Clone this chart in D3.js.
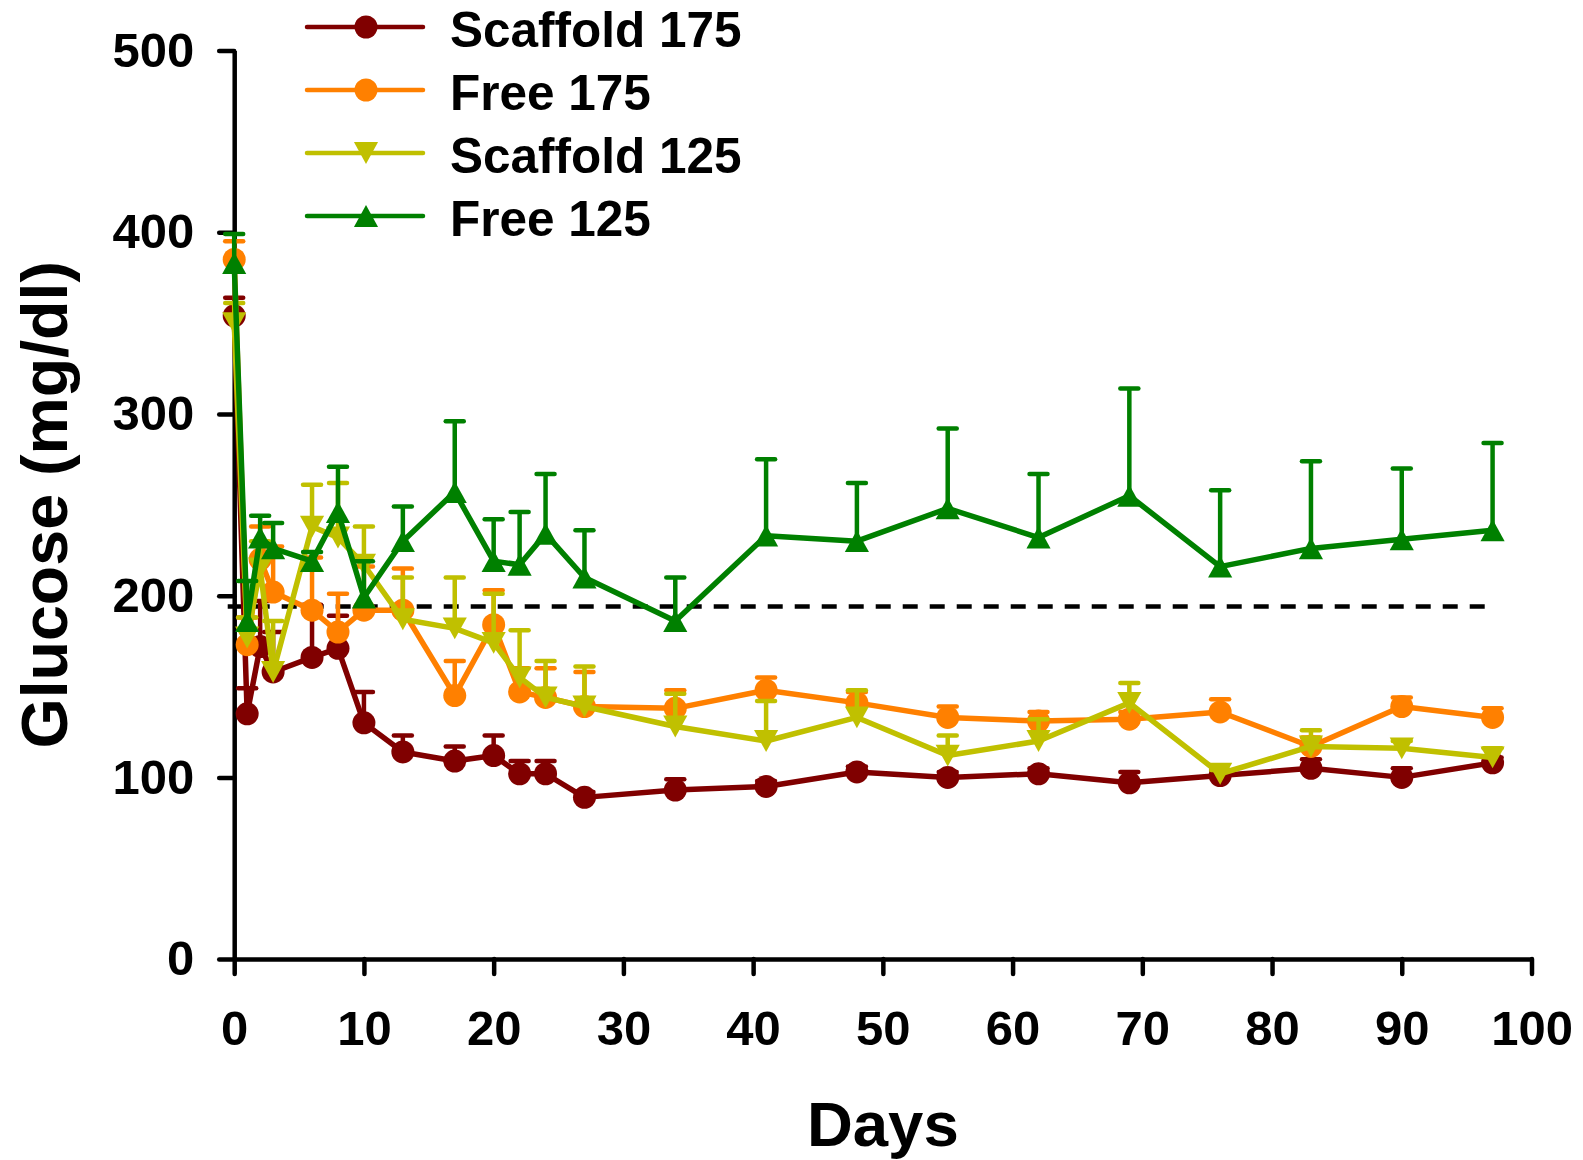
<!DOCTYPE html>
<html>
<head>
<meta charset="utf-8">
<script src="https://cdn.jsdelivr.net/npm/d3@7"></script>
<style>
  body { margin: 0; background: #fff; }
  svg { display: block; font-family: "Liberation Sans", Arial, sans-serif; font-weight: bold; }
</style>
</head>
<body>
<script>
// meetdagen
const days = [0, 1, 2, 3, 6, 8, 10, 13, 17, 20, 22, 24, 27, 34, 41, 48, 55, 62, 69, 76, 83, 90, 97]

// gemiddelde glucose per groep (mg/dl)
const scaffold175 = [354, 135, 172, 158, 166, 171, 130, 114, 109, 112, 102, 102, 89, 93, 95, 103, 100, 102, 97, 101, 105, 100, 108]
const free175 = [385, 173, 220, 202, 192, 180, 192, 192, 145, 184, 147, 144, 139, 138, 148, 141, 133, 131, 132, 136, 117, 139, 133]
const scaffold125 = [350, 177, 215, 158, 238, 232, 217, 187, 182, 174, 155, 144, 139, 128, 120, 133, 112, 120, 141, 102, 117, 116, 111]
const free125 = [383, 186, 232, 226, 219, 246, 199, 230, 257, 219, 217, 234, 210, 186, 233, 230, 248, 232, 255, 216, 226, 231, 236]

// foutbalken (alleen naar boven)
const scaffold175Err = [10, 14, 25, 22, 29, 18, 17, 9, 8, 11, 7, 7, 3, 6, 3, 3, 3, 3, 6, 3, 5, 5, 3]
const free175Err = [10, 15, 18, 25, 29, 21, 24, 23, 19, 19, 13, 16, 19, 10, 7, 6, 6, 5, 4, 7, 5, 5, 5]
const scaffold125Err = [11, 11, 15, 28, 23, 30, 21, 23, 28, 27, 26, 20, 22, 18, 22, 15, 11, 12, 11, 2, 9, 4, 5]
const free125Err = [16, 22, 12, 14, 5, 25, 20, 19, 39, 23, 29, 33, 26, 24, 42, 32, 44, 35, 59, 42, 48, 39, 48]

const seriesNames = ['Scaffold 175', 'Free 175', 'Scaffold 125', 'Free 125']
const xTicks = [0, 10, 20, 30, 40, 50, 60, 70, 80, 90, 100]
const yTicks = [0, 100, 200, 300, 400, 500]

// drempel (stippellijn)
const threshold = 194
const thresholdDays = [-0.5, 96.6]

const series = [
	{ name: seriesNames[0], values: scaffold175, err: scaffold175Err, color: '#800000', symbol: 'circle' },
	{ name: seriesNames[1], values: free175, err: free175Err, color: '#FF8000', symbol: 'circle' },
	{ name: seriesNames[2], values: scaffold125, err: scaffold125Err, color: '#C0C000', symbol: 'down' },
	{ name: seriesNames[3], values: free125, err: free125Err, color: '#008000', symbol: 'up' }
]

const W = 1583
const H = 1160

const svg = d3.select('body').append('svg').attr('width', W).attr('height', H)

const x = d3.scaleLinear().domain([0, 100]).range([234.2, 1531.5])
const y = d3.scaleLinear().domain([0, 500]).range([959.1, 50.5])

// assen
svg.append('g')
	.attr('transform', `translate(0,${y(0)})`)
	.call(d3.axisBottom(x).tickValues(xTicks).tickSize(15).tickSizeOuter(0).tickPadding(36))
svg.append('g')
	.attr('transform', `translate(${x(0)},0)`)
	.call(d3.axisLeft(y).tickValues(yTicks).tickSize(15).tickSizeOuter(0).tickPadding(25))

svg.selectAll('.domain').attr('stroke', '#000').attr('stroke-width', 4.5)
svg.selectAll('.tick line').attr('stroke', '#000').attr('stroke-width', 4.5).attr('stroke-linecap', 'round')
svg.selectAll('.tick text').attr('fill', '#000').style('font-size', '49px').style('font-weight', 'bold')
	.style('font-family', '"Liberation Sans", Arial, sans-serif')

// stippellijn
svg.append('line')
	.attr('x1', x(thresholdDays[0])).attr('x2', x(thresholdDays[1]))
	.attr('y1', y(threshold)).attr('y2', y(threshold))
	.attr('stroke', '#000').attr('stroke-width', 4.5).attr('stroke-dasharray', '15 12')

function symbolPath(type, size) {
	if (type === 'circle') {
		const r = size / 2
		return `M${-r},0A${r},${r} 0 1,0 ${r},0A${r},${r} 0 1,0 ${-r},0Z`
	}
	const w = size * 1.05
	const h = size * 0.95
	if (type === 'up') return `M0,${-h / 2}L${w / 2},${h / 2}L${-w / 2},${h / 2}Z`
	return `M0,${h / 2}L${w / 2},${-h / 2}L${-w / 2},${-h / 2}Z`
}

const line = d3.line().x(d => x(d[0])).y(d => y(d[1]))

series.forEach(s => {
	const g = svg.append('g')
	const pts = days.map((d, i) => [d, s.values[i], s.err[i]])

	// foutbalken
	g.selectAll('line.stem').data(pts).join('line')
		.attr('class', 'stem')
		.attr('x1', d => x(d[0])).attr('x2', d => x(d[0]))
		.attr('y1', d => y(d[1])).attr('y2', d => y(d[1] + d[2]))
		.attr('stroke', s.color).attr('stroke-width', 4.5)
	g.selectAll('line.cap').data(pts).join('line')
		.attr('class', 'cap')
		.attr('x1', d => x(d[0]) - 9).attr('x2', d => x(d[0]) + 9)
		.attr('y1', d => y(d[1] + d[2])).attr('y2', d => y(d[1] + d[2]))
		.attr('stroke', s.color).attr('stroke-width', 4.5).attr('stroke-linecap', 'round')

	g.append('path').datum(pts)
		.attr('d', line)
		.attr('fill', 'none').attr('stroke', s.color).attr('stroke-width', 5.5).attr('stroke-linejoin', 'round')

	g.selectAll('path.mark').data(pts).join('path')
		.attr('class', 'mark')
		.attr('transform', d => `translate(${x(d[0])},${y(d[1])})`)
		.attr('d', symbolPath(s.symbol, 23))
		.attr('fill', s.color)
})

// legenda
const legend = svg.append('g')
series.forEach((s, i) => {
	const ly = 27 + i * 63
	legend.append('line')
		.attr('x1', 307).attr('x2', 423).attr('y1', ly).attr('y2', ly)
		.attr('stroke', s.color).attr('stroke-width', 4.5).attr('stroke-linecap', 'round')
	legend.append('path')
		.attr('transform', `translate(366,${ly})`)
		.attr('d', symbolPath(s.symbol, 23))
		.attr('fill', s.color)
	legend.append('text')
		.attr('x', 450).attr('y', ly + 20)
		.style('font-size', '49.5px')
		.text(s.name)
})

// astitels
svg.append('text')
	.attr('x', x(50)).attr('y', 1146)
	.attr('text-anchor', 'middle')
	.style('font-size', '63.5px')
	.text('Days')

svg.append('text')
	.attr('transform', `translate(67,${(y(0) + y(500)) / 2}) rotate(-90)`)
	.attr('text-anchor', 'middle')
	.style('font-size', '64.5px')
	.text('Glucose (mg/dl)')
</script>
</body>
</html>
